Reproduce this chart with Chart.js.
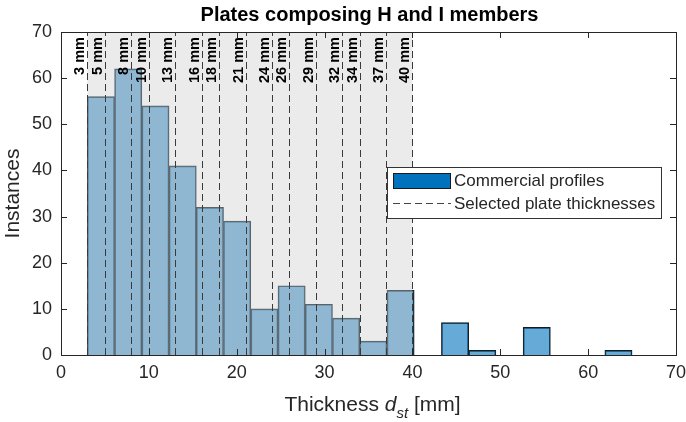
<!DOCTYPE html>
<html>
<head>
<meta charset="utf-8">
<script src="https://cdn.jsdelivr.net/npm/chart.js@4"></script>
<style>
  body { margin: 0; background: #fff; }
  canvas { display: block; }
</style>
</head>
<body>
<canvas id="chart" width="686" height="422"></canvas>
<script>
/* Histogram of plate thicknesses, MATLAB look */

const binEdges = [3, 6.1, 9.2, 12.3, 15.4, 18.5, 21.6, 24.7, 27.8, 30.9, 34, 37.1, 40.2,
                  43.3, 46.4, 49.5, 52.6, 55.7, 58.8, 61.9, 65];
const counts = [56, 62, 54, 41, 32, 29, 10, 15, 11, 8, 3, 14, 0, 7, 1, 0, 6, 0, 0, 1];
const plateThicknesses = [3, 5, 8, 10, 13, 16, 18, 21, 24, 26, 29, 32, 34, 37, 40];
const xTickValues = [0, 10, 20, 30, 40, 50, 60, 70];
const yTickValues = [0, 10, 20, 30, 40, 50, 60, 70];

const FONT = "'Liberation Sans', Arial, Helvetica, sans-serif";
const AXIS_COLOR = '#262626';

// shaded band, dashed lines, labels, box, ticks, legend, titles
const overlay = {
  id: 'overlay',
  afterDatasetsDraw(chart) {
    const { ctx, chartArea: a, scales: { x, y } } = chart;
    ctx.save();

    // grey band over the selected range
    const x0 = x.getPixelForValue(plateThicknesses[0]);
    const x1 = x.getPixelForValue(plateThicknesses[plateThicknesses.length - 1]);
    ctx.fillStyle = 'rgba(204,204,204,0.4)';
    ctx.fillRect(x0, a.top, x1 - x0, a.bottom - a.top);

    // dashed lines
    ctx.strokeStyle = '#3a3a3a';
    ctx.lineWidth = 1;
    ctx.setLineDash([7, 4]);
    plateThicknesses.forEach((t) => {
      const px = Math.round(x.getPixelForValue(t)) + 0.5;
      ctx.beginPath();
      ctx.moveTo(px, a.bottom);
      ctx.lineTo(px, a.top);
      ctx.stroke();
    });
    ctx.setLineDash([]);

    // rotated labels
    ctx.fillStyle = '#000';
    ctx.font = 'bold 14.5px ' + FONT;
    ctx.textAlign = 'right';
    ctx.textBaseline = 'alphabetic';
    plateThicknesses.forEach((t) => {
      const px = x.getPixelForValue(t);
      ctx.save();
      ctx.translate(px - 3, a.top + 5);
      ctx.rotate(-Math.PI / 2);
      ctx.fillText(t + ' mm', 0, 0);
      ctx.restore();
    });

    // axes box
    ctx.strokeStyle = AXIS_COLOR;
    ctx.strokeRect(Math.round(a.left) + 0.5, Math.round(a.top) + 0.5,
      Math.round(a.right - a.left), Math.round(a.bottom - a.top));

    // inward ticks on all four sides
    const tl = 6;
    ctx.beginPath();
    xTickValues.forEach((v) => {
      const px = Math.round(x.getPixelForValue(v)) + 0.5;
      ctx.moveTo(px, a.bottom); ctx.lineTo(px, a.bottom - tl);
      ctx.moveTo(px, a.top); ctx.lineTo(px, a.top + tl);
    });
    yTickValues.forEach((v) => {
      const py = Math.round(y.getPixelForValue(v)) + 0.5;
      ctx.moveTo(a.left, py); ctx.lineTo(a.left + tl, py);
      ctx.moveTo(a.right, py); ctx.lineTo(a.right - tl, py);
    });
    ctx.stroke();

    // legend
    const lx = 387.5, ly = 167.5, lw = 274, lh = 51;
    ctx.fillStyle = '#fff';
    ctx.fillRect(lx, ly, lw, lh);
    ctx.strokeStyle = '#333';
    ctx.strokeRect(lx, ly, lw, lh);
    ctx.fillStyle = '#0072BD';
    ctx.fillRect(393.5, 173.5, 57, 15);
    ctx.strokeStyle = '#1a1a1a';
    ctx.strokeRect(393.5, 173.5, 57, 15);
    ctx.strokeStyle = '#444';
    ctx.setLineDash([7, 4]);
    ctx.beginPath();
    ctx.moveTo(393, 203.5);
    ctx.lineTo(451, 203.5);
    ctx.stroke();
    ctx.setLineDash([]);
    ctx.fillStyle = AXIS_COLOR;
    ctx.font = '17px ' + FONT;
    ctx.textAlign = 'left';
    ctx.textBaseline = 'middle';
    ctx.fillText('Commercial profiles', 454, 181);
    ctx.fillText('Selected plate thicknesses', 454, 204);

    // title
    ctx.fillStyle = '#000';
    ctx.font = 'bold 20px ' + FONT;
    ctx.textAlign = 'center';
    ctx.textBaseline = 'alphabetic';
    ctx.fillText('Plates composing H and I members', (a.left + a.right) / 2 + 1, 21);

    // y label
    ctx.fillStyle = AXIS_COLOR;
    ctx.font = '21px ' + FONT;
    ctx.save();
    ctx.translate(19, (a.top + a.bottom) / 2);
    ctx.rotate(-Math.PI / 2);
    ctx.textAlign = 'center';
    ctx.fillText('Instances', 0, 0);
    ctx.restore();

    // x label with italic d and subscript st
    const main = '21px ' + FONT, ital = 'italic 21px ' + FONT, sub = 'italic 15px ' + FONT;
    const parts = [
      { t: 'Thickness ', f: main, dy: 0 },
      { t: 'd', f: ital, dy: 0 },
      { t: 'st', f: sub, dy: 7 },
      { t: ' [mm]', f: main, dy: 0 },
    ];
    let total = 0;
    parts.forEach((p) => { ctx.font = p.f; p.w = ctx.measureText(p.t).width; total += p.w; });
    let cx = (a.left + a.right) / 2 + 4 - total / 2;
    ctx.textAlign = 'left';
    parts.forEach((p) => {
      ctx.font = p.f;
      ctx.fillText(p.t, cx, 411 + p.dy);
      cx += p.w;
    });

    ctx.restore();
  },
};

const ctx = document.getElementById('chart');

new Chart(ctx, {
  type: 'bar',
  data: {
    datasets: [
      {
        label: 'Commercial profiles',
        data: counts.map((c, i) => ({ x: (binEdges[i] + binEdges[i + 1]) / 2, y: c > 0 ? c : null })),
        backgroundColor: 'rgba(0,114,189,0.6)',
        borderColor: '#1a1a1a',
        borderWidth: 1,
        borderSkipped: 'start',
        barPercentage: 1,
        categoryPercentage: 1,
      },
    ],
  },
  options: {
    responsive: false,
    animation: false,
    devicePixelRatio: 1,
    layout: { padding: { top: 32, right: 10, left: 0, bottom: 0 } },
    plugins: {
      legend: { display: false },
      tooltip: { enabled: false },
    },
    scales: {
      x: {
        type: 'linear',
        min: 0,
        max: 70,
        offset: false,
        grid: { display: false, drawTicks: false },
        border: { display: false },
        ticks: {
          stepSize: 10,
          padding: 7,
          color: AXIS_COLOR,
          font: { family: FONT, size: 18 },
          maxRotation: 0,
        },
        afterFit: (s) => {
          s.height = 67;
          s.paddingRight = 0;
          s.paddingLeft = 0;
        },
      },
      y: {
        min: 0,
        max: 70,
        grid: { display: false, drawTicks: false },
        border: { display: false },
        ticks: {
          stepSize: 10,
          padding: 9,
          color: AXIS_COLOR,
          font: { family: FONT, size: 18 },
        },
        afterFit: (s) => {
          s.width = 61;
          s.paddingTop = 0;
          s.paddingBottom = 0;
        },
      },
    },
  },
  plugins: [overlay],
});
</script>
</body>
</html>
